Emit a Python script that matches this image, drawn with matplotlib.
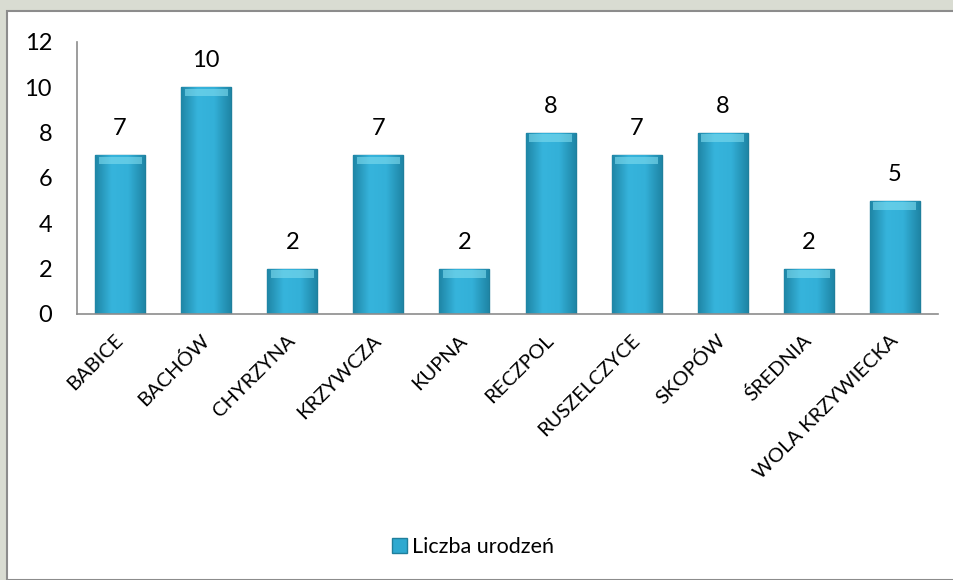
import numpy as np
import matplotlib.pyplot as plt
from matplotlib.patches import Rectangle
from matplotlib.colors import LinearSegmentedColormap

villages = ["BABICE", "BACHÓW", "CHYRZYNA", "KRZYWCZA", "KUPNA",
            "RECZPOL", "RUSZELCZYCE", "SKOPÓW", "ŚREDNIA", "WOLA KRZYWIECKA"]
births = [7, 10, 2, 7, 2, 8, 7, 8, 2, 5]
yticks = [0, 2, 4, 6, 8, 10, 12]

plt.rcParams['font.family'] = ['Lato', 'DejaVu Sans']

fig = plt.figure(figsize=(9.54, 5.8), dpi=100)
fig.patch.set_facecolor("#d9dcd2")

# white chart panel over the photo background
panel = Rectangle((7 / 954, 0), 1, 1 - 11 / 580, transform=fig.transFigure,
                  facecolor="white", edgecolor="#8c8c8c", linewidth=1.5, zorder=-5)
fig.patches.append(panel)

ax = fig.add_axes([77 / 954, 1 - 314 / 580, 861 / 954, 272 / 580])
ax.set_facecolor("none")

x = range(len(villages))
bars = ax.bar(x, births, width=0.58, color="#2ea9d0", edgecolor="#1f7f9c",
              linewidth=1.0, zorder=2)

# shaded look: darker sides, light cap on top
shade = LinearSegmentedColormap.from_list("shade", ["#1f86a6", "#36b4dc", "#33b0d8", "#1f86a6"])
grad = np.linspace(0, 1, 64).reshape(1, -1)
for b in bars:
    x0, w, h = b.get_x(), b.get_width(), b.get_height()
    im = ax.imshow(grad, extent=[x0, x0 + w, 0, h], aspect="auto", cmap=shade,
                   interpolation="bicubic", zorder=2.5)
    im.set_clip_path(b)
    ax.add_patch(Rectangle((x0 + 0.04, h - 0.4), w - 0.08, 0.33,
                           facecolor="#7fdcef", edgecolor="none", alpha=0.6, zorder=3))

for xi, v in zip(x, births):
    ax.text(xi, v + 0.7, str(v), ha="center", va="bottom", fontsize=17)

ax.set_xlim(-0.5, len(villages) - 0.5)
ax.set_ylim(0, 12)
ax.set_yticks(yticks)
ax.tick_params(axis="y", length=0, pad=18, labelsize=17)
ax.tick_params(axis="x", length=0, pad=17, labelsize=14.5)
ax.set_xticks(list(x))
ax.set_xticklabels(villages, rotation=45, ha="right", va="center", rotation_mode="anchor")

for s in ["top", "right"]:
    ax.spines[s].set_visible(False)
ax.spines["left"].set_color("#8c8c8c")
ax.spines["bottom"].set_color("#8c8c8c")
ax.spines["left"].set_linewidth(1.2)
ax.spines["bottom"].set_linewidth(1.2)

leg = fig.legend([bars], ["Liczba urodzeń"], loc="center", bbox_to_anchor=(473 / 954, 1 - 547 / 580),
                 frameon=False, fontsize=15.5, handlelength=0.7, handleheight=0.7, handletextpad=0.25)

fig.savefig("out.png", dpi=100, facecolor=fig.get_facecolor())
